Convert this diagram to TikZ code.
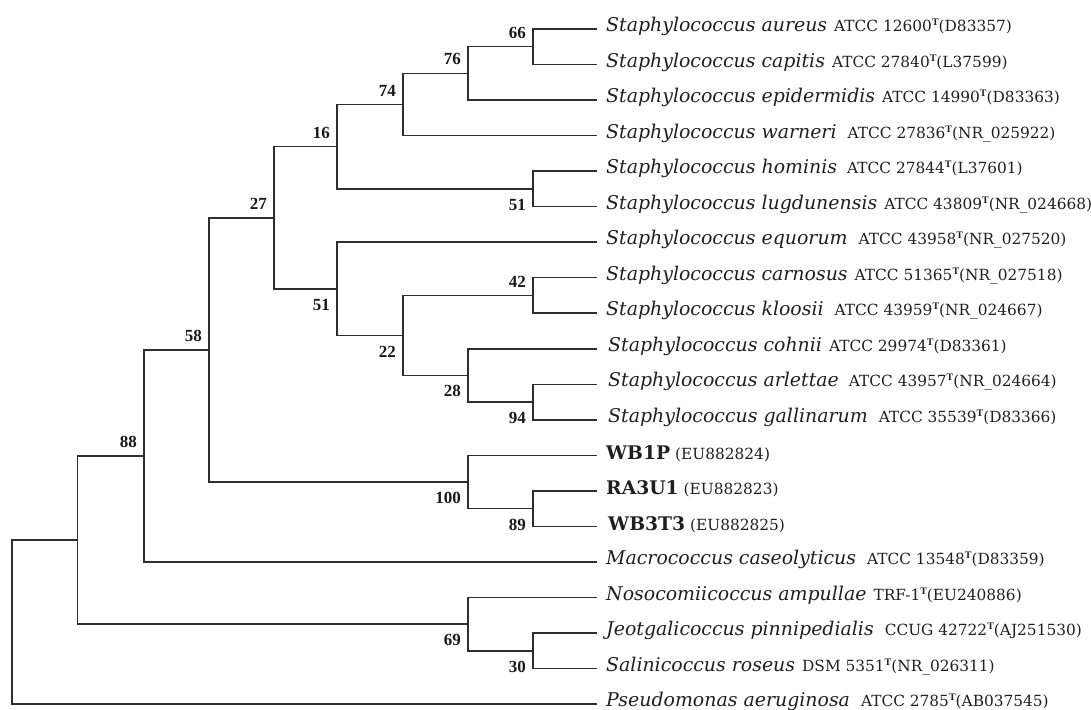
\documentclass[tikz,border=0pt]{standalone}
\usepackage{fontspec}
\setmainfont{Liberation Serif}
\newfontfamily\dvserif{DejaVu Serif}
\newcommand\supT{\raisebox{6pt}{\rmfamily\bfseries\fontsize{10}{10}\selectfont T}}
% fit font sizes to the widths measured on the reference
\newlength\fitw
\settowidth\fitw{\dvserif\itshape\fontsize{10}{12}\selectfont Staphylococcus aureus}
\pgfmathsetmacro\nmsize{10*221/\fitw}
\settowidth\fitw{\dvserif\fontsize{10}{12}\selectfont ATCC 12600(D83357)}
\pgfmathsetmacro\stsize{10*(177-6)/\fitw}
\settowidth\fitw{\dvserif\bfseries\fontsize{10}{12}\selectfont WB1P}
\pgfmathsetmacro\idsize{10*64/\fitw}
\newcommand\nmfont{\dvserif\itshape\fontsize{\nmsize}{\nmsize}\selectfont}
\newcommand\stfont{\dvserif\fontsize{\stsize}{\stsize}\selectfont}
\newcommand\idfont{\dvserif\bfseries\fontsize{\idsize}{\idsize}\selectfont}
\newcommand\bsfont{\rmfamily\bfseries\fontsize{17}{19}\selectfont}
\newcommand\taxon[4]{{\nmfont #1}\hspace{\dimexpr 7pt+#4\relax}{\stfont #2\supT(#3)}}
\newcommand\isolate[2]{{\idfont #1}\hspace{5pt}{\stfont (#2)}}
\tikzset{
  br/.style={draw=black!82, line width=1.5pt},
  bs/.style={font=\bsfont, inner sep=0pt, text=black!90},
  bsup/.style={bs, anchor=east, xshift=-7pt, yshift=14pt},
  bsdn/.style={bs, anchor=east, xshift=-7pt, yshift=-16pt},
  leaflab/.style={anchor=base west, inner sep=0pt, xshift=9pt, yshift=-2.5pt, text=black!88}
}
\begin{document}
\begin{tikzpicture}[x=1pt,y=-1pt]
\useasboundingbox (0,0) rectangle (1091,709);
% leaf ends
\def\LX{597}
\foreach \i/\y in {1/29,2/64.5,3/100,4/135.6,5/171.1,6/206.7,7/242.2,8/277.7,9/313.2,10/348.8,11/384.3,12/419.8,13/455.4,14/490.9,15/526.4,16/562,17/597.5,18/633,19/668.6,20/704}
  {\coordinate (l\i) at (\LX,\y);}
% internal nodes
\coordinate (n66) at (533,46.7);
\coordinate (n76) at (468,73.4);
\coordinate (n74) at (403,104.5);
\coordinate (n51a) at (533,188.9);
\coordinate (n16) at (337,146.7);
\coordinate (n42) at (533,295.5);
\coordinate (n94) at (533,402.1);
\coordinate (n28) at (468,375.4);
\coordinate (n22) at (403,335.5);
\coordinate (n51b) at (337,288.8);
\coordinate (n27) at (274,217.8);
\coordinate (n89) at (533,508.7);
\coordinate (n100) at (468,482);
\coordinate (n58) at (209,349.9);
\coordinate (n88) at (144,456);
\coordinate (n30) at (533,650.8);
\coordinate (n69) at (468,624.2);
\coordinate (nU) at (77.5,540.1);
\coordinate (root) at (12,622);
% branches
\draw[br] (n66) |- (l1); \draw[br] (n66) |- (l2);
\draw[br] (n76) |- (n66); \draw[br] (n76) |- (l3);
\draw[br] (n74) |- (n76); \draw[br] (n74) |- (l4);
\draw[br] (n51a) |- (l5); \draw[br] (n51a) |- (l6);
\draw[br] (n16) |- (n74); \draw[br] (n16) |- (n51a);
\draw[br] (n42) |- (l8); \draw[br] (n42) |- (l9);
\draw[br] (n94) |- (l11); \draw[br] (n94) |- (l12);
\draw[br] (n28) |- (l10); \draw[br] (n28) |- (n94);
\draw[br] (n22) |- (n42); \draw[br] (n22) |- (n28);
\draw[br] (n51b) |- (l7); \draw[br] (n51b) |- (n22);
\draw[br] (n27) |- (n16); \draw[br] (n27) |- (n51b);
\draw[br] (n89) |- (l14); \draw[br] (n89) |- (l15);
\draw[br] (n100) |- (l13); \draw[br] (n100) |- (n89);
\draw[br] (n58) |- (n27); \draw[br] (n58) |- (n100);
\draw[br] (n88) |- (n58); \draw[br] (n88) |- (l16);
\draw[br] (n30) |- (l18); \draw[br] (n30) |- (l19);
\draw[br] (n69) |- (l17); \draw[br] (n69) |- (n30);
\draw[br] (nU) |- (n88); \draw[br] (nU) |- (n69);
\draw[br] (root) |- (nU); \draw[br] (root) |- (l20);
% bootstrap values
\node[bsup] (b66) at (n66) {66};
\node[bsup] (b76) at (n76) {76};
\node[bsup] (b74) at (n74) {74};
\node[bsup] (b16) at (n16) {16};
\node[bsup] (b27) at (n27) {27};
\node[bsup] (b58) at (n58) {58};
\node[bsup] (b88) at (n88) {88};
\node[bsup] (b42) at (n42) {42};
\node[bsdn] (b51a) at (n51a) {51};
\node[bsdn] (b51b) at (n51b) {51};
\node[bsdn] (b22) at (n22) {22};
\node[bsdn] (b28) at (n28) {28};
\node[bsdn] (b94) at (n94) {94};
\node[bsdn] (b100) at (n100) {100};
\node[bsdn] (b89) at (n89) {89};
\node[bsdn] (b69) at (n69) {69};
\node[bsdn] (b30) at (n30) {30};
% leaf labels
\node[leaflab] (t1) at (l1) {\taxon{Staphylococcus aureus}{ATCC 12600}{D83357}{0pt}};
\node[leaflab] (t2) at (l2) {\taxon{Staphylococcus capitis}{ATCC 27840}{L37599}{0pt}};
\node[leaflab] (t3) at (l3) {\taxon{Staphylococcus epidermidis}{ATCC 14990}{D83363}{0pt}};
\node[leaflab] (t4) at (l4) {\taxon{Staphylococcus warneri}{ATCC 27836}{NR\_025922}{4pt}};
\node[leaflab] (t5) at (l5) {\taxon{Staphylococcus hominis}{ATCC 27844}{L37601}{3pt}};
\node[leaflab] (t6) at (l6) {\taxon{Staphylococcus lugdunensis}{ATCC 43809}{NR\_024668}{0pt}};
\node[leaflab] (t7) at (l7) {\taxon{Staphylococcus equorum}{ATCC 43958}{NR\_027520}{4pt}};
\node[leaflab] (t8) at (l8) {\taxon{Staphylococcus carnosus}{ATCC 51365}{NR\_027518}{0pt}};
\node[leaflab] (t9) at (l9) {\taxon{Staphylococcus kloosii}{ATCC 43959}{NR\_024667}{4pt}};
\node[leaflab,xshift=2pt] (t10) at (l10) {\taxon{Staphylococcus cohnii}{ATCC 29974}{D83361}{0pt}};
\node[leaflab,xshift=2pt] (t11) at (l11) {\taxon{Staphylococcus arlettae}{ATCC 43957}{NR\_024664}{3pt}};
\node[leaflab,xshift=2pt] (t12) at (l12) {\taxon{Staphylococcus gallinarum}{ATCC 35539}{D83366}{4pt}};
\node[leaflab,yshift=-1.5pt] (t13) at (l13) {\isolate{WB1P}{EU882824}};
\node[leaflab,yshift=-1.5pt] (t14) at (l14) {\isolate{RA3U1}{EU882823}};
\node[leaflab,xshift=2pt,yshift=-1.5pt] (t15) at (l15) {\isolate{WB3T3}{EU882825}};
\node[leaflab] (t16) at (l16) {\taxon{Macrococcus caseolyticus}{ATCC 13548}{D83359}{4pt}};
\node[leaflab] (t17) at (l17) {\taxon{Nosocomiicoccus ampullae}{TRF-1}{EU240886}{0pt}};
\node[leaflab] (t18) at (l18) {\taxon{Jeotgalicoccus pinnipedialis}{CCUG 42722}{AJ251530}{4pt}};
\node[leaflab] (t19) at (l19) {\taxon{Salinicoccus roseus}{DSM 5351}{NR\_026311}{0pt}};
\node[leaflab] (t20) at (l20) {\taxon{Pseudomonas aeruginosa}{ATCC 2785}{AB037545}{4pt}};
\end{tikzpicture}
\end{document}
